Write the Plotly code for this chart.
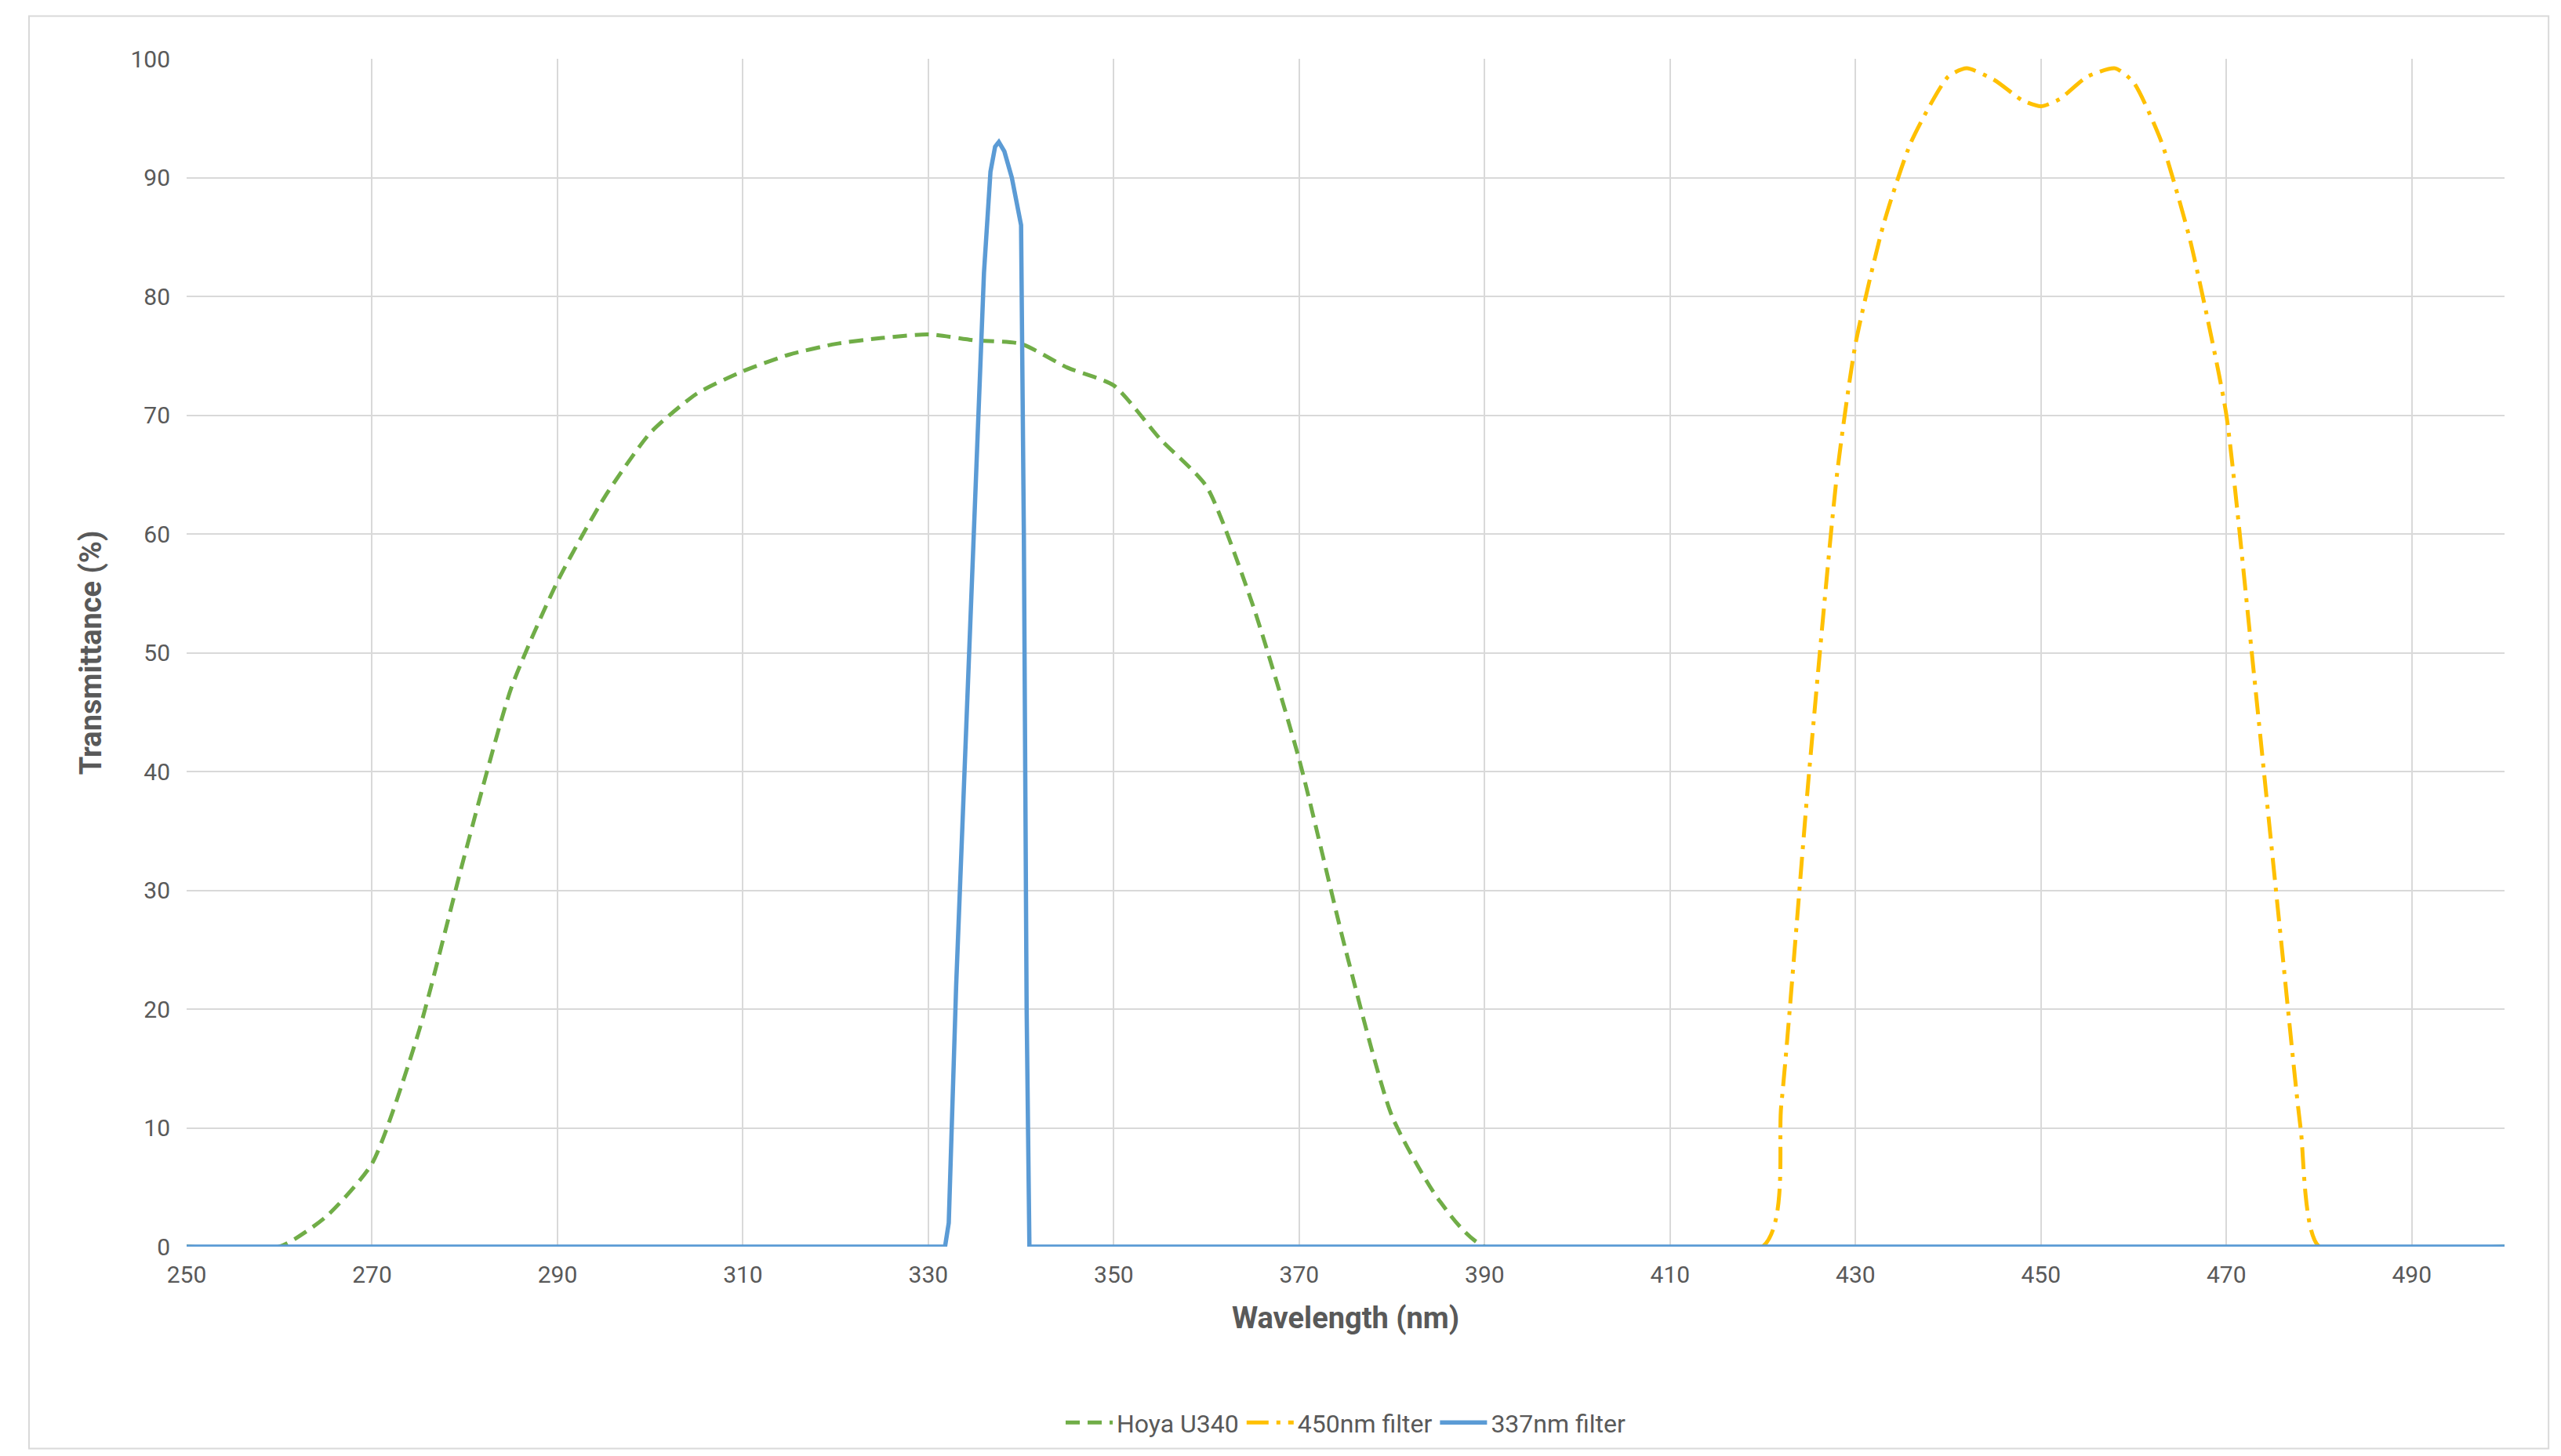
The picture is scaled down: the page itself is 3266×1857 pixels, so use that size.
import plotly.graph_objects as go

hoya_x = [250, 260, 265, 270, 275, 280, 285, 290, 295, 300, 305, 310, 315, 320, 325, 330, 335, 340, 345, 350, 355, 360, 365, 370, 375, 380, 385, 390, 500]
hoya_y = [0, 0, 2.5, 7, 18, 33, 47, 56, 63, 68.5, 71.8, 73.7, 75.1, 76.0, 76.5, 76.8, 76.3, 76.0, 74.0, 72.5, 68.0, 64.0, 54.0, 41.0, 25.0, 11.0, 4.0, 0, 0]

f450_x = [250, 420, 422, 425, 428, 430, 433, 436, 440, 442, 445, 448, 450, 452, 455, 458, 460, 463, 466, 468, 470, 473, 476, 478, 480, 500]
f450_y = [0, 0, 12, 40, 65, 76, 86, 93, 98.5, 99.2, 98.2, 96.5, 96.0, 96.6, 98.5, 99.2, 98.0, 93.0, 85.0, 78.0, 70.0, 48.0, 25.0, 10.0, 0, 0]

f337_x = [250, 331.8, 332.2, 333, 334, 335, 336, 336.7, 337.2, 337.6, 338.2, 339, 339.6, 340, 340.3, 340.6, 340.9, 500]
f337_y = [0, 0, 2, 22, 42, 62, 82, 90.5, 92.6, 93.0, 92.2, 90.0, 87.5, 86.0, 60, 20, 0, 0]

x_ticks = list(range(250, 500, 20))
y_ticks = list(range(0, 101, 10))

font = "Liberation Sans Narrow, Roboto, sans-serif"
fig = go.Figure()
fig.add_trace(go.Scatter(x=hoya_x, y=hoya_y, mode="lines", name="Hoya U340", cliponaxis=False,
                         line=dict(color="#70AD47", width=5, dash="18px,10px", shape="spline", smoothing=0.6)))
fig.add_trace(go.Scatter(x=f450_x, y=f450_y, mode="lines", name="450nm filter", cliponaxis=False,
                         line=dict(color="#FFC000", width=5, dash="28px,10px,5px,10px", shape="spline", smoothing=0.6)))
fig.add_trace(go.Scatter(x=f337_x, y=f337_y, mode="lines", name="337nm filter", cliponaxis=False,
                         line=dict(color="#5B9BD5", width=5.5)))

fig.update_layout(
    width=3266, height=1857, paper_bgcolor="white", plot_bgcolor="white",
    margin=dict(l=230, r=80, t=67, b=275),
    font=dict(family=font, size=30, color="#595959"),
    showlegend=True,
    legend=dict(orientation="h", x=0.5, xanchor="center", y=-0.13, yanchor="top",
                font=dict(size=32, color="#595959"), itemwidth=60, tracegroupgap=40),
    shapes=[dict(type="rect", xref="paper", yref="paper", x0=-0.068, x1=1.019, y0=-0.170, y1=1.036,
                 line=dict(color="#D9D9D9", width=2))],
)
fig.update_xaxes(range=[250, 500], tickvals=x_ticks, showgrid=True, gridcolor="#D9D9D9", gridwidth=2,
                 zeroline=False, showline=False, ticks="", automargin=False, ticklabelstandoff=15,
                 title=dict(text="<b>Wavelength (nm)</b>", font=dict(size=38, color="#595959"), standoff=25))
fig.update_yaxes(range=[0, 100], tickvals=y_ticks, showgrid=True, gridcolor="#D9D9D9", gridwidth=2,
                 zeroline=False, showline=False, ticks="", automargin=False, ticklabelstandoff=20,
                 title=dict(text="<b>Transmittance (%)</b>", font=dict(size=38, color="#595959"), standoff=25))
fig.write_html("out.html")
